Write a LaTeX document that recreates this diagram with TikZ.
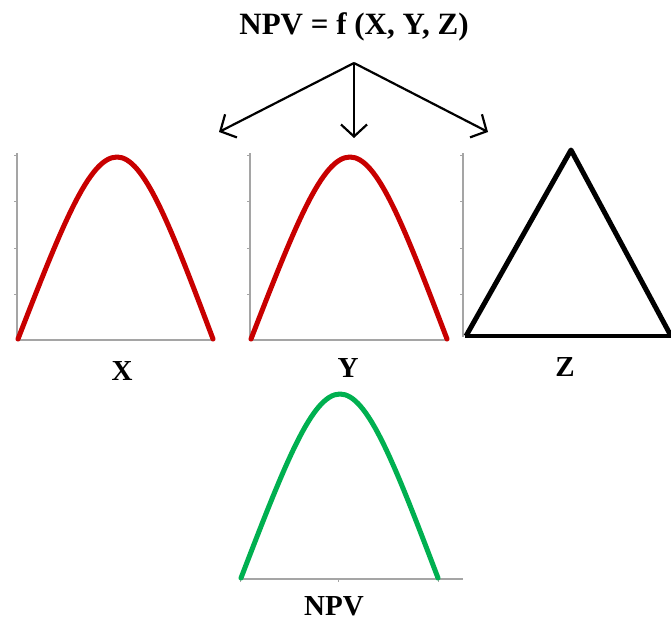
\documentclass[tikz,border=0pt]{standalone}
\usepackage{fontspec}
\setmainfont{Liberation Serif}
\usepackage{tikz}
\usetikzlibrary{arrows.meta}
\definecolor{hred}{RGB}{200,0,0}
\definecolor{hgreen}{RGB}{0,176,80}
\definecolor{axgray}{RGB}{165,165,165}
\newcommand{\fLbl}{\fontsize{29}{34}\selectfont}
\newcommand{\fHead}{\fontsize{31}{36}\selectfont}
% hump: x0, x peak, x1, y top, y base
\newcommand{\hump}[5]{%
  (#1,#5) .. controls ({#1+0.45*(#2-#1)},{#5-0.63*(#5-#4)}) and ({#2-0.28*(#2-#1)},#4) .. (#2,#4)
  .. controls ({#2+0.28*(#3-#2)},#4) and ({#3-0.45*(#3-#2)},{#5-0.63*(#5-#4)}) .. (#3,#5)}
\begin{document}
\begin{tikzpicture}[x=1pt,y=-1pt,
  lbl/.style={font=\fLbl\bfseries,inner sep=0pt},
  axis/.style={draw=axgray,line width=1.5pt},
  curve/.style={line width=5pt,line cap=round,line join=round},
  split/.style={-{Straight Barb[length=12pt,width=26pt,line width=2.2pt]},line width=2.2pt}]
  \useasboundingbox (0,0) rectangle (671,623);
  \node[lbl,font=\fHead\bfseries] (fn) at (354,27) {NPV = f (X, Y, Z)};
  \coordinate (hub) at (354,63);
  \coordinate (toX) at (219,132);
  \coordinate (toY) at (354,138);
  \coordinate (toZ) at (488,132);
  \draw[split] (hub) -- (toX);
  \draw[split] (hub) -- (toY);
  \draw[split] (hub) -- (toZ);
  % X panel
  \draw[axis] (17,153) -- (17,340) -- (213,340);
  \foreach \t in {155,201,248,294} \draw[axis,line width=1pt] (14,\t) -- (17,\t);
  \draw[curve,hred] \hump{18}{117}{213}{157}{339};
  \node[lbl] (lblX) at (122,371) {X};
  % Y panel
  \draw[axis] (250,153) -- (250,340) -- (447,340);
  \foreach \t in {155,201,248,294} \draw[axis,line width=1pt] (247,\t) -- (250,\t);
  \draw[curve,hred] \hump{251}{350}{447}{157}{339};
  \node[lbl] (lblY) at (348,368) {Y};
  % Z panel
  \draw[axis] (463,153) -- (463,337);
  \foreach \t in {155,201,248,294} \draw[axis,line width=1pt] (460,\t) -- (463,\t);
  \draw[line width=4pt] (465,336) -- (671,336);
  \draw[curve,line cap=butt] (466,336) -- (571,150) -- (671,336);
  \node[lbl] (lblZ) at (565,367) {Z};
  % NPV panel
  \draw[axis] (240,579) -- (463,579);
  \foreach \t in {240,338,438} \draw[axis,line width=1pt] (\t,579) -- (\t,582);
  \draw[curve,hgreen] \hump{241}{340}{438}{394}{578};
  \node[lbl] (lblNPV) at (334,606) {NPV};
\end{tikzpicture}
\end{document}
